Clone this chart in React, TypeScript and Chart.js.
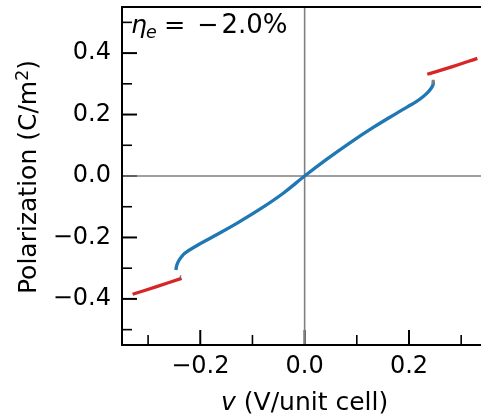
import { useEffect, useRef } from 'react';
import { Chart, registerables } from 'chart.js';

Chart.register(...registerables);

const FONT = '"DejaVu Sans", "Liberation Sans", sans-serif';

// Stable branch (blue), v in V/unit cell, P in C/m^2
const blueV = [-0.2467, -0.2454, -0.2423, -0.236, -0.2294, -0.207, -0.175, -0.13, -0.0857, -0.041, 0, 0.042, 0.0868, 0.1315, 0.176, 0.197, 0.2147, 0.2274, 0.237, 0.2435, 0.2462, 0.2468];
const blueP = [-0.306, -0.293, -0.279, -0.263, -0.251, -0.227, -0.197, -0.154, -0.108, -0.056, 0, 0.054, 0.108, 0.158, 0.204, 0.225, 0.243, 0.259, 0.274, 0.288, 0.298, 0.307];

// Switched branches (red)
const redLowV = [-0.3297, -0.2837, -0.2358];
const redLowP = [-0.385, -0.36, -0.333];
const redHighV = [0.235, 0.2818, 0.331];
const redHighP = [0.331, 0.355, 0.383];

// Short grey stubs at the branch ends
const greyTopV = [0.2468, 0.2464];
const greyTopP = [0.303, 0.313];
const greyLowV = [-0.2395, -0.2372];
const greyLowP = [-0.3265, -0.3285];

const xMajorTicks = [-0.2, 0, 0.2];
const xMinorTicks = [-0.3, -0.1, 0.1, 0.3];
const yMajorTicks = [-0.4, -0.2, 0, 0.2, 0.4];
const yMinorTicks = [-0.5, -0.3, -0.1, 0.1, 0.3, 0.5];

const xRange = [-0.35, 0.338];
const yRange = [-0.55, 0.55];

const strainSymbol = 'η';
const strainSub = 'e';
const strainValue = '2.0%';

const toPoints = (xs: number[], ys: number[]) => xs.map((v, i) => ({ x: v, y: ys[i] }));
const fmt = (v: number) => {
  const s = Math.abs(v) < 1e-9 ? '0.0' : v.toFixed(1);
  return s.replace('-', '\u2212');
};

const decor = {
  id: 'decor',
  beforeDatasetsDraw(chart: any) {
    const { ctx, chartArea: a, scales } = chart;
    const x = scales.x;
    const y = scales.y;
    ctx.save();
    ctx.strokeStyle = '#000';
    ctx.lineCap = 'butt';
    const yTick = (vals: number[], len: number, w: number) => {
      ctx.lineWidth = w;
      vals.forEach((v) => {
        const py = y.getPixelForValue(v);
        ctx.beginPath();
        ctx.moveTo(a.left, py);
        ctx.lineTo(a.left + len, py);
        ctx.stroke();
      });
    };
    const xTick = (vals: number[], len: number, w: number) => {
      ctx.lineWidth = w;
      vals.forEach((v) => {
        const px = x.getPixelForValue(v);
        ctx.beginPath();
        ctx.moveTo(px, a.bottom);
        ctx.lineTo(px, a.bottom - len);
        ctx.stroke();
      });
    };
    yTick(yMajorTicks, 15, 2);
    yTick(yMinorTicks, 10, 1.6);
    xTick(xMajorTicks, 15, 2);
    xTick(xMinorTicks, 10, 1.6);

    // zero lines
    ctx.strokeStyle = '#808080';
    ctx.lineWidth = 1.6;
    const x0 = x.getPixelForValue(0);
    const y0 = y.getPixelForValue(0);
    ctx.beginPath();
    ctx.moveTo(x0, a.top);
    ctx.lineTo(x0, a.bottom);
    ctx.moveTo(a.left, y0);
    ctx.lineTo(a.right, y0);
    ctx.stroke();

    // spines
    ctx.strokeStyle = '#000';
    ctx.lineWidth = 2;
    ctx.beginPath();
    ctx.moveTo(a.right, a.top);
    ctx.lineTo(a.left, a.top);
    ctx.lineTo(a.left, a.bottom);
    ctx.lineTo(a.right, a.bottom);
    ctx.stroke();
    ctx.restore();
  },
  afterDraw(chart: any) {
    const { ctx, chartArea: a, scales } = chart;
    const x = scales.x;
    const y = scales.y;
    ctx.save();
    ctx.fillStyle = '#000';
    ctx.textBaseline = 'alphabetic';
    ctx.textAlign = 'left';

    // x axis title: italic v + units
    ctx.font = `italic 25px ${FONT}`;
    const wv = ctx.measureText('v').width;
    ctx.font = `25px ${FONT}`;
    const rest = ' (V/unit cell)';
    const wr = ctx.measureText(rest).width;
    const sx = x.getPixelForValue(0) - (wv + wr) / 2;
    const by = chart.height - 8;
    ctx.font = `italic 25px ${FONT}`;
    ctx.fillText('v', sx, by);
    ctx.font = `25px ${FONT}`;
    ctx.fillText(rest, sx + wv, by);

    // y axis title with superscript
    const t1 = 'Polarization (C/m';
    const t2 = '2';
    const t3 = ')';
    ctx.font = `25px ${FONT}`;
    const w1 = ctx.measureText(t1).width;
    const w3 = ctx.measureText(t3).width;
    ctx.font = `17.5px ${FONT}`;
    const w2 = ctx.measureText(t2).width;
    const total = w1 + w2 + w3;
    ctx.save();
    ctx.translate(36, y.getPixelForValue(0) + 1);
    ctx.rotate(-Math.PI / 2);
    let tx = -total / 2;
    ctx.font = `25px ${FONT}`;
    ctx.fillText(t1, tx, 0);
    tx += w1;
    ctx.font = `17.5px ${FONT}`;
    ctx.fillText(t2, tx, -8.5);
    tx += w2;
    ctx.font = `25px ${FONT}`;
    ctx.fillText(t3, tx, 0);
    ctx.restore();

    // strain annotation
    const base = a.top + 26;
    ctx.font = `italic 25px ${FONT}`;
    ctx.fillText(strainSymbol, a.left + 9, base);
    ctx.font = `italic 17.5px ${FONT}`;
    ctx.fillText(strainSub, a.left + 24, base + 4.5);
    ctx.font = `25.5px ${FONT}`;
    ctx.fillText('=', a.left + 42, base);
    ctx.fillText('\u2212', a.left + 75, base);
    ctx.font = `26px ${FONT}`;
    ctx.fillText(strainValue, a.left + 99.5, base);
    ctx.restore();
  },
};

export default function App() {
  const ref = useRef<HTMLCanvasElement | null>(null);
  useEffect(() => {
    if (!ref.current) return;
    const lineBase = { showLine: true, pointRadius: 0, borderCapStyle: 'butt' as const, fill: false };
    const chart = new Chart(ref.current, {
      type: 'scatter',
      data: {
        datasets: [
          { ...lineBase, data: toPoints(greyTopV, greyTopP), borderColor: '#7f7f7f', borderWidth: 3.2 },
          { ...lineBase, data: toPoints(greyLowV, greyLowP), borderColor: '#7f7f7f', borderWidth: 3.2 },
          { ...lineBase, data: toPoints(blueV, blueP), borderColor: '#1f77b4', borderWidth: 3.3, tension: 0.4 },
          { ...lineBase, data: toPoints(redLowV, redLowP), borderColor: '#d62728', borderWidth: 3.3, tension: 0.4 },
          { ...lineBase, data: toPoints(redHighV, redHighP), borderColor: '#d62728', borderWidth: 3.3, tension: 0.4 },
        ],
      },
      options: {
        animation: false,
        responsive: true,
        maintainAspectRatio: false,
        layout: { padding: { top: 7, left: 0, right: 0, bottom: 0 } },
        plugins: { legend: { display: false }, tooltip: { enabled: false } },
        scales: {
          x: {
            type: 'linear',
            min: xRange[0],
            max: xRange[1],
            grid: { display: false, drawTicks: false },
            border: { display: false },
            ticks: {
              font: { family: FONT, size: 24 },
              color: '#000',
              padding: 7,
              maxRotation: 0,
              autoSkip: false,
              callback: (v: any) => fmt(Number(v)),
            },
            afterBuildTicks: (s: any) => {
              s.ticks = xMajorTicks.map((value) => ({ value }));
            },
            afterFit: (s: any) => {
              s.height = 73;
              s.paddingLeft = 0;
              s.paddingRight = 0;
            },
          },
          y: {
            type: 'linear',
            min: yRange[0],
            max: yRange[1],
            grid: { display: false, drawTicks: false },
            border: { display: false },
            ticks: {
              font: { family: FONT, size: 24 },
              color: '#000',
              padding: 11,
              autoSkip: false,
              callback: (v: any) => fmt(Number(v)),
            },
            afterBuildTicks: (s: any) => {
              s.ticks = yMajorTicks.map((value) => ({ value }));
            },
            afterFit: (s: any) => {
              s.width = 122;
              s.paddingTop = 0;
              s.paddingBottom = 0;
            },
          },
        },
      },
      plugins: [decor],
    });
    return () => chart.destroy();
  }, []);
  return (
    <div style={{ position: 'fixed', left: 0, top: 0, width: 481, height: 418 }}>
      <canvas ref={ref} />
    </div>
  );
}
